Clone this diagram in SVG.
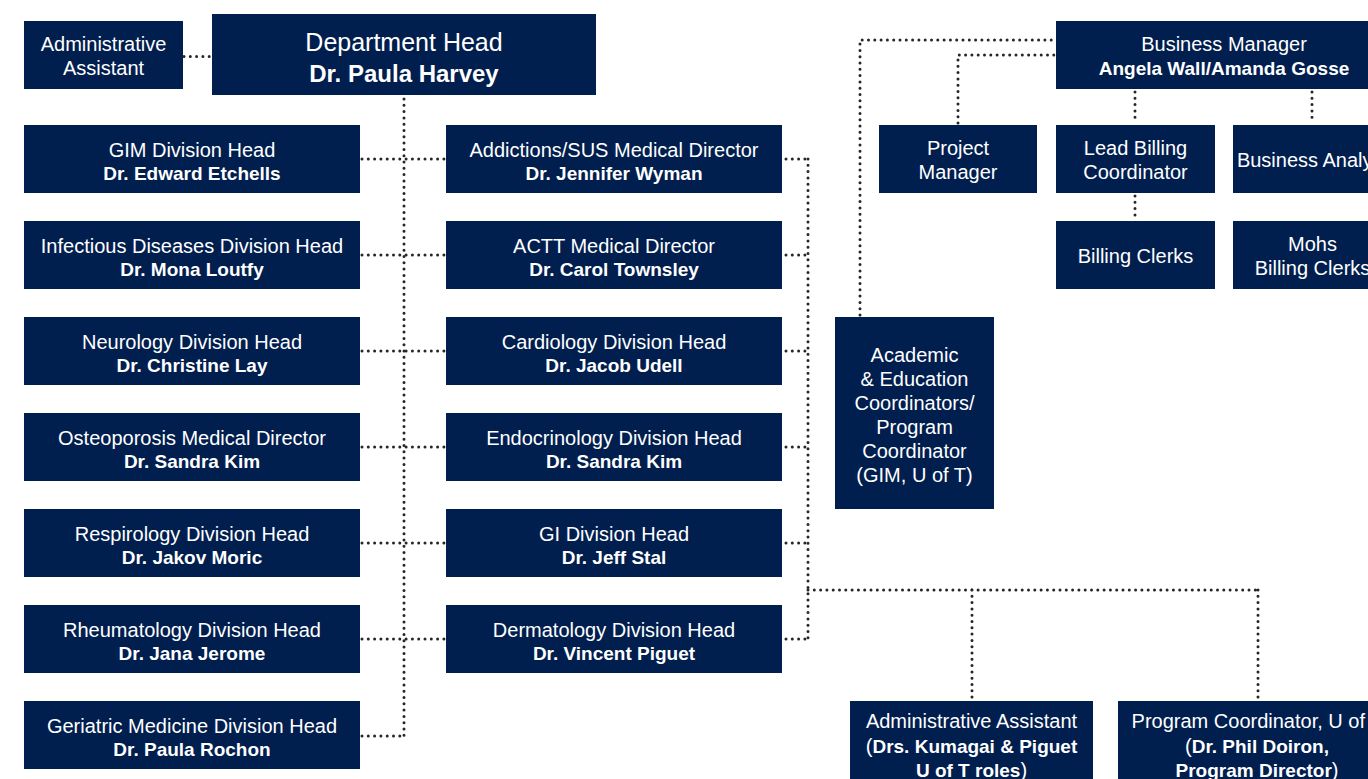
<svg xmlns="http://www.w3.org/2000/svg" width="1368" height="779" viewBox="0 0 1368 779">
<style>
.box{fill:#001e4e}
.t{font-family:"Liberation Sans",Arial,sans-serif;font-size:20px;fill:#ffffff;text-anchor:middle}
.b{font-weight:bold;font-size:19px}
.n{font-weight:normal;font-size:20px}
.big{font-size:25px}
.bigb{font-weight:bold;font-size:24px}
.c{fill:none;stroke:#262626;stroke-width:3;stroke-dasharray:0 6.3;stroke-linecap:round}
</style>
<rect width="1368" height="779" fill="#ffffff"/>
<g id="connectors">
<path class="c" d="M184 56.5H211"/>
<path class="c" d="M404 99V736"/>
<path class="c" d="M362 159H444M362 255H444M362 351H444M362 447H444M362 543H444M362 639H444M362 736H404"/>
<path class="c" d="M786 159H808M786 255H808M786 351H808M786 447H808M786 543H808M786 639H808"/>
<path class="c" d="M808 159V639"/>
<path class="c" d="M808 590H1258M972 590V699M1258 590V699"/>
<path class="c" d="M860 315V40H1054"/>
<path class="c" d="M958 123V55H1054"/>
<path class="c" d="M1135 92V122M1312 92V122M1135 196V219"/>
</g>
<g id="admin-assistant"><rect class="box" x="24" y="21" width="159" height="68"/>
<text class="t" x="103.5" y="50.5">Administrative</text><text class="t" x="103.5" y="74.5">Assistant</text></g>
<g id="department-head"><rect class="box" x="212" y="14" width="384" height="81"/>
<text class="t big" x="404" y="51">Department Head</text><text class="t bigb" x="404" y="82">Dr. Paula Harvey</text></g>
<g id="gim"><rect class="box" x="24" y="125" width="336" height="68"/>
<text class="t" x="192" y="156.5">GIM Division Head</text><text class="t b" x="192" y="180">Dr. Edward Etchells</text></g>
<g id="infectious"><rect class="box" x="24" y="221" width="336" height="68"/>
<text class="t" x="192" y="252.5">Infectious Diseases Division Head</text><text class="t b" x="192" y="276">Dr. Mona Loutfy</text></g>
<g id="neurology"><rect class="box" x="24" y="317" width="336" height="68"/>
<text class="t" x="192" y="348.5">Neurology Division Head</text><text class="t b" x="192" y="372">Dr. Christine Lay</text></g>
<g id="osteoporosis"><rect class="box" x="24" y="413" width="336" height="68"/>
<text class="t" x="192" y="444.5">Osteoporosis Medical Director</text><text class="t b" x="192" y="468">Dr. Sandra Kim</text></g>
<g id="respirology"><rect class="box" x="24" y="509" width="336" height="68"/>
<text class="t" x="192" y="540.5">Respirology Division Head</text><text class="t b" x="192" y="564">Dr. Jakov Moric</text></g>
<g id="rheumatology"><rect class="box" x="24" y="605" width="336" height="68"/>
<text class="t" x="192" y="636.5">Rheumatology Division Head</text><text class="t b" x="192" y="660">Dr. Jana Jerome</text></g>
<g id="geriatric"><rect class="box" x="24" y="701" width="336" height="68"/>
<text class="t" x="192" y="732.5">Geriatric Medicine Division Head</text><text class="t b" x="192" y="756">Dr. Paula Rochon</text></g>
<g id="addictions"><rect class="box" x="446" y="125" width="336" height="68"/>
<text class="t" x="614" y="156.5">Addictions/SUS Medical Director</text><text class="t b" x="614" y="180">Dr. Jennifer Wyman</text></g>
<g id="actt"><rect class="box" x="446" y="221" width="336" height="68"/>
<text class="t" x="614" y="252.5">ACTT Medical Director</text><text class="t b" x="614" y="276">Dr. Carol Townsley</text></g>
<g id="cardiology"><rect class="box" x="446" y="317" width="336" height="68"/>
<text class="t" x="614" y="348.5">Cardiology Division Head</text><text class="t b" x="614" y="372">Dr. Jacob Udell</text></g>
<g id="endocrinology"><rect class="box" x="446" y="413" width="336" height="68"/>
<text class="t" x="614" y="444.5">Endocrinology Division Head</text><text class="t b" x="614" y="468">Dr. Sandra Kim</text></g>
<g id="gi"><rect class="box" x="446" y="509" width="336" height="68"/>
<text class="t" x="614" y="540.5">GI Division Head</text><text class="t b" x="614" y="564">Dr. Jeff Stal</text></g>
<g id="dermatology"><rect class="box" x="446" y="605" width="336" height="68"/>
<text class="t" x="614" y="636.5">Dermatology Division Head</text><text class="t b" x="614" y="660">Dr. Vincent Piguet</text></g>
<g id="academic"><rect class="box" x="835" y="317" width="159" height="192"/>
<text class="t" x="914.5" y="362">Academic</text><text class="t" x="914.5" y="386">&amp; Education</text><text class="t" x="914.5" y="410">Coordinators/</text><text class="t" x="914.5" y="434">Program</text><text class="t" x="914.5" y="458">Coordinator</text><text class="t" x="914.5" y="482">(GIM, U of T)</text></g>
<g id="business-manager"><rect class="box" x="1056" y="21" width="336" height="68"/>
<text class="t" x="1224" y="51">Business Manager</text><text class="t b" x="1224" y="74.5">Angela Wall/Amanda Gosse</text></g>
<g id="project-manager"><rect class="box" x="879" y="125" width="158" height="68"/>
<text class="t" x="958" y="155">Project</text><text class="t" x="958" y="179">Manager</text></g>
<g id="lead-billing"><rect class="box" x="1056" y="125" width="159" height="68"/>
<text class="t" x="1135.5" y="155">Lead Billing</text><text class="t" x="1135.5" y="179">Coordinator</text></g>
<g id="business-analyst"><rect class="box" x="1233" y="125" width="159" height="68"/>
<text class="t" x="1312.5" y="167">Business Analyst</text></g>
<g id="billing-clerks"><rect class="box" x="1056" y="221" width="159" height="68"/>
<text class="t" x="1135.5" y="263">Billing Clerks</text></g>
<g id="mohs-billing-clerks"><rect class="box" x="1233" y="221" width="159" height="68"/>
<text class="t" x="1312.5" y="251">Mohs</text><text class="t" x="1312.5" y="275">Billing Clerks</text></g>
<g id="admin-assistant-uoft"><rect class="box" x="850" y="701" width="243" height="90"/>
<text class="t" x="971.5" y="728">Administrative Assistant</text>
<text class="t" x="971.5" y="752.5">(<tspan class="b">Drs. Kumagai &amp; Piguet</tspan></text>
<text class="t" x="971.5" y="777"><tspan class="b">U of T roles</tspan>)</text></g>
<g id="program-coordinator-uoft"><rect class="box" x="1118" y="701" width="278" height="90"/>
<text class="t" x="1257" y="728">Program Coordinator, U of T</text>
<text class="t" x="1257" y="752.5">(<tspan class="b">Dr. Phil Doiron,</tspan></text>
<text class="t" x="1257" y="777"><tspan class="b">Program Director</tspan>)</text></g>
</svg>
